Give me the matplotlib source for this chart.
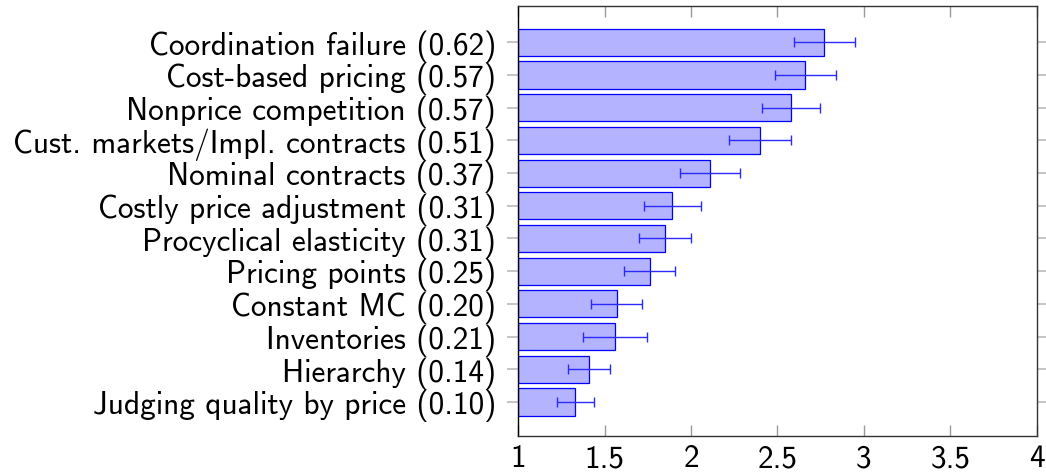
import numpy as np
import matplotlib.pyplot as plt

plt.rcParams['font.family'] = ['cmss10', 'DejaVu Sans']
plt.rcParams['axes.formatter.use_mathtext'] = True

# factors, top to bottom, with share in parentheses
factors = ['Coordination failure (0.62)', 'Cost-based pricing (0.57)',
           'Nonprice competition (0.57)', 'Cust. markets/Impl. contracts (0.51)',
           'Nominal contracts (0.37)', 'Costly price adjustment (0.31)',
           'Procyclical elasticity (0.31)', 'Pricing points (0.25)',
           'Constant MC (0.20)', 'Inventories (0.21)', 'Hierarchy (0.14)',
           'Judging quality by price (0.10)']
means = [2.77, 2.66, 2.58, 2.40, 2.11, 1.89, 1.85, 1.76, 1.57, 1.56, 1.41, 1.33]
errs = [0.176, 0.177, 0.168, 0.178, 0.174, 0.165, 0.151, 0.146, 0.148, 0.184, 0.121, 0.108]
xticks = [1, 1.5, 2, 2.5, 3, 3.5, 4]

ypos = np.arange(len(factors))[::-1]

fig = plt.figure(figsize=(10.46, 4.72), dpi=100)
ax = fig.add_axes([0.4955, 0.0763, 0.4956, 0.911])

ax.barh(ypos, np.array(means) - 1, left=1, height=0.83,
        color='#b3b3ff', edgecolor='#0000ff', linewidth=0.9, zorder=2)
ax.errorbar(means, ypos, xerr=errs, fmt='none', ecolor='#2a2aff',
            elinewidth=1.0, capsize=3.6, capthick=1.0, zorder=3)

ax.set_xlim(1, 4)
ax.set_ylim(-1.04, 12.11)
ax.set_xticks(xticks)
ax.set_xticklabels(['1', '1.5', '2', '2.5', '3', '3.5', '4'])
ax.set_yticks(ypos)
ax.set_yticklabels(factors)

ax.tick_params(axis='x', direction='in', length=8, width=1, color='#999999',
               top=True, labelsize=22.5, pad=6)
ax.tick_params(axis='y', direction='out', length=8, width=1.2, color='#bbbbbb',
               right=True, labelsize=22.5, pad=8)
for s in ax.spines.values():
    s.set_color('#333333')
    s.set_linewidth(1.0)
ax.spines['left'].set_color('black')

fig.savefig('out.png', dpi=100)
